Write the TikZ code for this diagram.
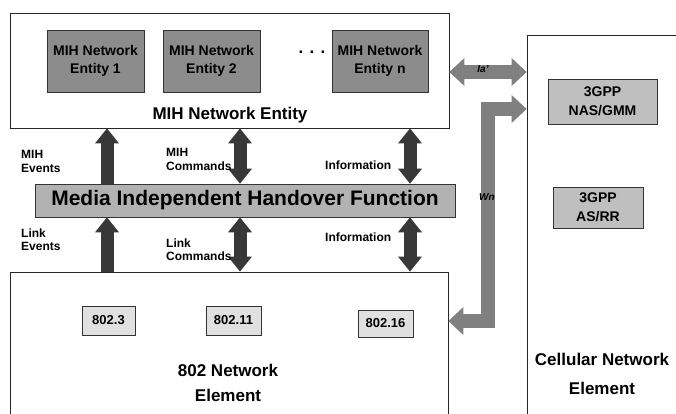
\documentclass[tikz,border=0pt]{standalone}
\usepackage{fontspec}
\setmainfont{Liberation Sans}
\usetikzlibrary{arrows.meta,shadows}

\tikzset{
  frame/.style={draw=black!85, line width=0.8pt, fill=white, inner sep=0pt},
  shadowed/.style={drop shadow={shadow xshift=1.3pt, shadow yshift=-1.3pt, fill=black!70, opacity=1}},
  entitybox/.style={shadowed, draw=black!80, line width=0.7pt, fill=black!45,
    minimum width=97pt, minimum height=62pt, align=center, inner sep=0pt,
    font=\fontsize{14}{18}\selectfont\bfseries},
  gppbox/.style={shadowed, draw=black!80, line width=0.7pt, fill=black!25,
    align=center, inner sep=0pt, font=\fontsize{14}{18.5}\selectfont\bfseries},
  ieeebox/.style={shadowed, draw=black!80, line width=0.7pt, fill=black!12,
    minimum height=29pt, inner sep=0pt, font=\fontsize{13}{14}\selectfont\bfseries},
  title/.style={align=center, inner sep=0pt, font=\fontsize{17}{25}\selectfont\bfseries},
  lbl/.style={align=left, anchor=west, inner sep=0pt, font=\fontsize{12}{13.5}\selectfont\bfseries},
  ifname/.style={inner sep=0pt, font=\fontsize{10}{11}\selectfont\bfseries\itshape},
  darkhead/.tip={Triangle[width=24pt,length=15pt,line width=0pt]},
  grayhead/.tip={Triangle[width=28pt,length=15pt,line width=0pt]},
  darkarr/.style={draw=black!78, line width=13pt},
  grayarr/.style={draw=black!50, line width=14.5pt, line join=miter},
}

\begin{document}
\begin{tikzpicture}[x=1pt,y=-1pt]
  \useasboundingbox (0,0) rectangle (676,414);
  \clip (0,0) rectangle (676,414);

  % upper block: MIH network entities
  \node[frame, minimum width=439pt, minimum height=115pt] (mihe) at (229.5,70.5) {};
  \node[entitybox] (ent1) at (95.5,61) {MIH Network\\Entity 1};
  \node[entitybox] (ent2) at (211.5,61) {MIH Network\\Entity 2};
  \node[entitybox, minimum width=96pt] (entn) at (380,61) {MIH Network\\Entity n};
  \node[inner sep=0pt, font=\fontsize{17}{18}\selectfont\bfseries] (dots) at (312,52) {. . .};
  \node[title] (mihetitle) at (230,115) {MIH Network Entity};

  % cellular network element
  \node[frame, minimum width=173pt, minimum height=405pt] (cell) at (613.5,237.5) {};
  \node[gppbox, minimum width=109pt, minimum height=45pt] (nas) at (602.5,101.5) {3GPP\\NAS/GMM};
  \node[gppbox, minimum width=90pt, minimum height=41pt] (asrr) at (598,207.5) {3GPP\\AS/RR};
  \node[title, font=\fontsize{17}{29}\selectfont\bfseries] (celltitle) at (602,374) {Cellular Network\\Element};

  % 802 network element
  \node[frame, minimum width=438pt, minimum height=168pt] (ne) at (229,356) {};
  \node[ieeebox, minimum width=53pt] (b3) at (108.5,320.5) {802.3};
  \node[ieeebox, minimum width=55pt] (b11) at (233.5,320.5) {802.11};
  \node[ieeebox, minimum width=55pt, minimum height=27pt] (b16) at (385.5,323.5) {802.16};
  \node[title] (netitle) at (228,383) {802 Network\\Element};

  % handover function bar
  \node[draw=black!80, line width=0.7pt, fill=black!30, minimum width=420pt, minimum height=33pt,
        inner sep=0pt, font=\fontsize{21}{24}\selectfont\bfseries] (mihf) at (245,200.5)
        {Media Independent Handover Function};

  % service access arrows
  \coordinate (colev) at (107,0);
  \coordinate (colcmd) at (240,0);
  \coordinate (colinf) at (410,0);
  \draw[darkarr, -darkhead] (mihf.north -| colev) -- (mihe.south -| colev);
  \draw[darkarr, darkhead-darkhead] (mihf.north -| colcmd) -- (mihe.south -| colcmd);
  \draw[darkarr, darkhead-darkhead] (mihf.north -| colinf) -- (mihe.south -| colinf);
  \draw[darkarr, -darkhead] (ne.north -| colev) -- (mihf.south -| colev);
  \draw[darkarr, darkhead-darkhead] (ne.north -| colcmd) -- (mihf.south -| colcmd);
  \draw[darkarr, darkhead-darkhead] (ne.north -| colinf) -- (mihf.south -| colinf);

  \node[lbl] (lmihev) at (21,161.5) {MIH\\Events};
  \node[lbl] (lmihcmd) at (166,159.5) {MIH\\Commands};
  \node[lbl] (linfo1) at (325,165) {Information};
  \node[lbl] (llinkev) at (21,239.5) {Link\\Events};
  \node[lbl] (llinkcmd) at (166,249.5) {Link\\Commands};
  \node[lbl] (linfo2) at (325,237) {Information};

  % reference points towards the cellular side
  \coordinate (iarow) at (0,72);
  \draw[grayarr, grayhead-grayhead] (mihe.east |- iarow) -- (cell.west |- iarow);
  \node[ifname] (ialbl) at (483,69) {Ia'};

  \coordinate (wnlow) at (0,321);
  \coordinate (wnhigh) at (0,109);
  \coordinate (wnbend) at (488,0);
  \draw[grayarr, grayhead-grayhead] (ne.east |- wnlow) -| (wnbend |- wnhigh) -- (cell.west |- wnhigh);
  \node[ifname] (wnlbl) at (487,197) {Wn};
\end{tikzpicture}
\end{document}
